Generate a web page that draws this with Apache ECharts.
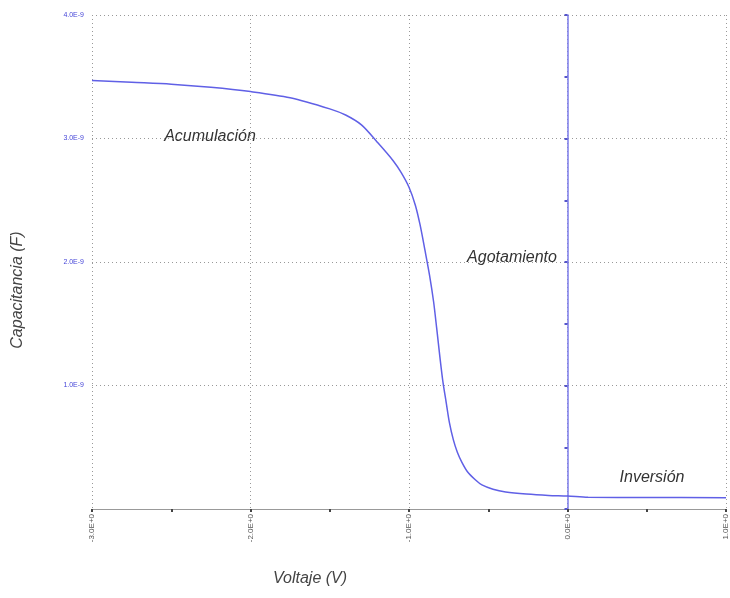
<!DOCTYPE html>
<html>
<head>
<meta charset="utf-8">
<script src="https://cdn.jsdelivr.net/npm/echarts@6/dist/echarts.min.js"></script>
<style>
html,body{margin:0;padding:0;background:#fff;overflow:hidden;}
#chart{width:730px;height:598px;}
</style>
</head>
<body>
<div id="chart"></div>
<script>
// Voltage (V)
var voltage = [-3.0, -2.75, -2.5, -2.25, -2.0, -1.75, -1.5, -1.4, -1.3, -1.2, -1.1, -1.05, -1.0, -0.96, -0.93, -0.90, -0.87, -0.845, -0.825, -0.805, -0.787, -0.765, -0.745, -0.72, -0.695, -0.667, -0.63, -0.58, -0.54, -0.47, -0.39, -0.26, -0.12, 0.0, 0.13, 0.5, 1.0];
// Capacitance (F)
var capacitance = [3.47e-9, 3.455e-9, 3.44e-9, 3.415e-9, 3.38e-9, 3.33e-9, 3.24e-9, 3.19e-9, 3.11e-9, 2.97e-9, 2.82e-9, 2.725e-9, 2.605e-9, 2.46e-9, 2.30e-9, 2.10e-9, 1.89e-9, 1.68e-9, 1.46e-9, 1.23e-9, 1.04e-9, 0.86e-9, 0.70e-9, 0.56e-9, 0.46e-9, 0.38e-9, 0.30e-9, 0.235e-9, 0.195e-9, 0.16e-9, 0.138e-9, 0.121e-9, 0.11e-9, 0.105e-9, 0.095e-9, 0.093e-9, 0.092e-9];
var annotations = [
  {text: 'Acumulación', x: 210, y: 137},
  {text: 'Agotamiento', x: 512, y: 258},
  {text: 'Inversión', x: 652, y: 478}
];
var xTitle = 'Voltaje (V)';
var yTitle = 'Capacitancia (F)';

function fmt(v){ return v.toExponential(1).toUpperCase(); }

var data = voltage.map(function(v, i){ return [v, capacitance[i]]; });
var FONT = 'italic 16px "Liberation Sans", Arial, sans-serif';

var graphics = annotations.map(function(a){
  return {type: 'text', x: a.x, y: a.y, style: {
    text: a.text, textAlign: 'center', textVerticalAlign: 'middle',
    font: FONT, fill: '#333'
  }};
});
graphics.push({type: 'text', x: 310, y: 579, style: {
  text: xTitle, textAlign: 'center', textVerticalAlign: 'middle', font: FONT, fill: '#444'}});
graphics.push({type: 'text', x: 18, y: 290, rotation: Math.PI / 2, style: {
  text: yTitle, textAlign: 'center', textVerticalAlign: 'middle', font: FONT, fill: '#444'}});

var chart = echarts.init(document.getElementById('chart'));
chart.setOption({
  animation: false,
  backgroundColor: '#fff',
  textStyle: {fontFamily: 'Liberation Sans, Arial, sans-serif'},
  grid: {left: 92, width: 637, top: 15, height: 494},
  xAxis: {
    type: 'value', min: -3, max: 1, interval: 1,
    axisLine: {onZero: false, lineStyle: {color: '#999', width: 1}},
    axisTick: {show: true, length: 3, inside: false, lineStyle: {color: '#444', width: 2}},
    minorTick: {show: true, splitNumber: 2, length: 3, lineStyle: {color: '#444', width: 2}},
    axisLabel: {rotate: 90, fontSize: 8, color: '#555', margin: 5, formatter: fmt},
    splitLine: {show: true, lineStyle: {type: [1, 3], color: '#999', width: 1}}
  },
  yAxis: [{
    type: 'value', min: 0, max: 4e-9, interval: 1e-9,
    axisLine: {show: false, onZero: false},
    axisTick: {show: false},
    axisLabel: {fontSize: 7, color: '#4646d8', margin: 8,
      formatter: function(v){ return v === 0 ? '' : fmt(v); }},
    splitLine: {show: true, lineStyle: {type: [1, 3], color: '#999', width: 1}}
  }, {
    type: 'value', min: 0, max: 4e-9, interval: 0.5e-9, position: 'left',
    axisLine: {show: true, onZero: true, lineStyle: {color: '#7b7bea', width: 1.5}},
    axisTick: {show: true, length: 3, inside: false, lineStyle: {color: '#5555cc', width: 2}},
    axisLabel: {show: false},
    splitLine: {show: false}
  }],
  series: [{
    type: 'line', data: data, xAxisIndex: 0, yAxisIndex: 0,
    smooth: 0.3, symbol: 'none',
    lineStyle: {color: '#6060e6', width: 1.5}
  }],
  graphic: graphics
});
</script>
</body>
</html>
